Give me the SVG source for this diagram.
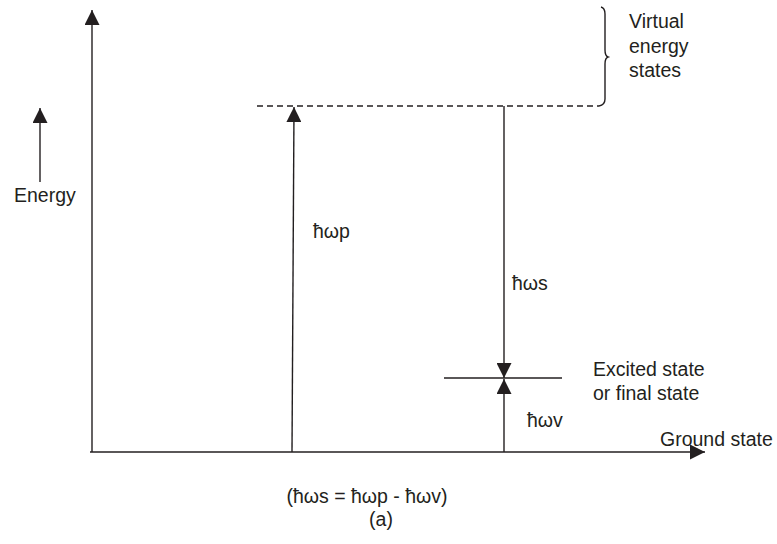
<svg xmlns="http://www.w3.org/2000/svg" width="777" height="544" viewBox="0 0 777 544">
<style>
.ln{stroke:#231f20;stroke-width:1.4;fill:none}
.ah{fill:#231f20}
text{font-family:"Liberation Sans",Arial,sans-serif;font-size:19.5px;fill:#231f20}
</style>
<defs>
<marker id="arr" markerWidth="15" markerHeight="15" viewBox="0 0 15 15" refX="15" refY="7.5" orient="auto" markerUnits="userSpaceOnUse">
<path d="M0,0 L15,7.5 L0,15 Z" class="ah"/>
</marker>
</defs>
<rect width="777" height="544" fill="#ffffff"/>
<g id="connectors">
<line id="y-axis" class="ln" x1="92" y1="452" x2="92" y2="10" marker-end="url(#arr)"/>
<line id="x-axis" class="ln" x1="90" y1="452" x2="705" y2="452" marker-end="url(#arr)"/>
<line id="energy-arrow" class="ln" x1="40" y1="182" x2="40" y2="108" marker-end="url(#arr)"/>
<line id="pump" class="ln" x1="292" y1="452" x2="294" y2="107" marker-end="url(#arr)"/>
<line id="stokes" class="ln" x1="504" y1="106" x2="504" y2="378" marker-end="url(#arr)"/>
<line id="vib" class="ln" x1="504" y1="452" x2="504" y2="379" marker-end="url(#arr)"/>
</g>
<g id="virtual-states">
<line class="ln" x1="257" y1="106" x2="599" y2="106" stroke-dasharray="6,4"/>
<path class="ln" d="M601,7 Q605,8 605,14 L605,50 Q605,56 608,57 Q605,58 605,64 L605,99 Q605,105 599,106"/>
<text x="629" y="28">Virtual</text>
<text x="629" y="53">energy</text>
<text x="629" y="77">states</text>
</g>
<g id="excited-state">
<line class="ln" x1="444" y1="378" x2="562" y2="378"/>
<text x="593" y="376">Excited state</text>
<text x="593" y="400">or final state</text>
</g>
<g id="ground-state">
<text x="660" y="446">Ground state</text>
</g>
<g id="labels">
<text x="14" y="202">Energy</text>
<text x="313" y="238">ħωp</text>
<text x="512" y="290">ħωs</text>
<text x="527" y="427">ħωv</text>
<text x="367" y="503" text-anchor="middle">(ħωs = ħωp - ħωv)</text>
<text x="381" y="526" text-anchor="middle">(a)</text>
</g>
</svg>
